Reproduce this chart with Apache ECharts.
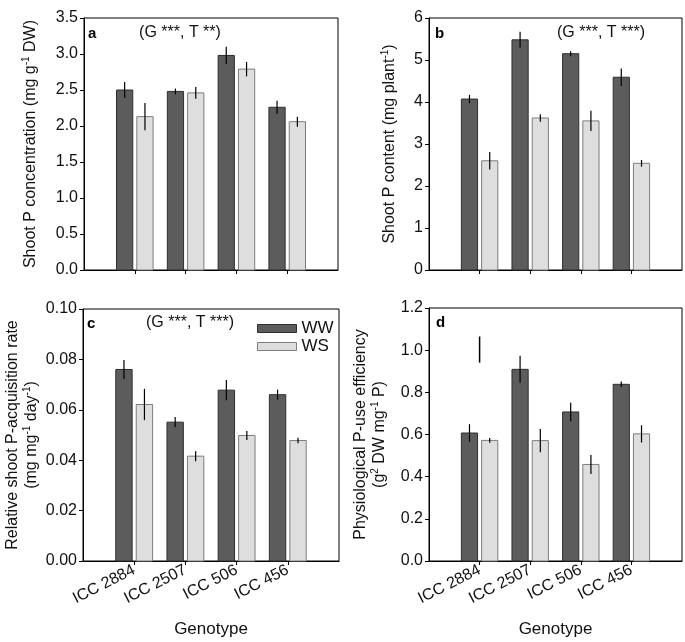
<!DOCTYPE html>
<html>
<head>
<meta charset="utf-8">
<script src="https://cdn.jsdelivr.net/npm/echarts@6/dist/echarts.min.js"></script>
<style>
  html, body { margin: 0; padding: 0; background: #fff; }
  #chart { width: 685px; height: 642px; }
</style>
</head>
<body>
<div id="chart"></div>
<script>
// genotypes on the x axis (positions 0..3)
const genotypes = ['ICC 2884', 'ICC 2507', 'ICC 506', 'ICC 456'];

// a: shoot P concentration (mg g-1 DW)
const concWW = [2.50, 2.48, 2.98, 2.26];
const concWWErr = [0.11, 0.04, 0.12, 0.09];
const concWS = [2.13, 2.46, 2.79, 2.06];
const concWSErr = [0.19, 0.08, 0.10, 0.07];

// b: shoot P content (mg plant-1)
const contentWW = [4.07, 5.48, 5.15, 4.59];
const contentWWErr = [0.10, 0.19, 0.06, 0.21];
const contentWS = [2.60, 3.62, 3.55, 2.54];
const contentWSErr = [0.21, 0.09, 0.24, 0.08];

// c: relative shoot P-acquisition rate
const rateWW = [0.0760, 0.0551, 0.0678, 0.0660];
const rateWWErr = [0.0038, 0.0020, 0.0040, 0.0020];
const rateWS = [0.0621, 0.0416, 0.0498, 0.0478];
const rateWSErr = [0.0062, 0.0020, 0.0018, 0.0011];

// d: physiological P-use efficiency
const pueWW = [0.607, 0.909, 0.707, 0.838];
const pueWWErr = [0.042, 0.064, 0.044, 0.013];
const pueWS = [0.572, 0.571, 0.458, 0.603];
const pueWSErr = [0.011, 0.055, 0.045, 0.041];
// lone error line drawn above ICC 2884 in panel d: [x, mean, err]
const pueStray = [0, 1.003, 0.062];

// y axis ranges [min, max, interval] and decimals of tick labels
const concAxis = [0, 3.5, 0.5, 1];
const contentAxis = [0, 6, 1, 0];
const rateAxis = [0, 0.10, 0.02, 2];
const pueAxis = [0, 1.2, 0.2, 1];

const statsLabels = ['(G ***, T **)', '(G ***, T ***)', '(G ***, T ***)', ''];
const panelLetters = ['a', 'b', 'c', 'd'];

const FONT = 'Liberation Sans, Arial, sans-serif';
const WW_FILL = '#5c5c5c', WW_EDGE = '#2f2f2f';
const WS_FILL = '#dedede', WS_EDGE = '#7d7d7d';
const BAR_W = 0.32;
const OFFSET = 0.2;

const chart = echarts.init(document.getElementById('chart'));

const grids = [
  { left: 84, top: 18, width: 254, height: 252 },
  { left: 429, top: 18, width: 253, height: 252 },
  { left: 83, top: 309, width: 256, height: 252 },
  { left: 429, top: 308, width: 253, height: 253 }
];

const supRich = {
  sup: { fontSize: 10, fontFamily: FONT, color: '#111', verticalAlign: 'top', lineHeight: 10 }
};

function xAxis(i, showLabels) {
  return {
    type: 'value', gridIndex: i, min: -1, max: 4, interval: 1,
    name: showLabels ? 'Genotype' : '',
    nameLocation: 'middle', nameGap: 60,
    nameTextStyle: { fontFamily: FONT, fontSize: 17, color: '#111' },
    axisLine: { show: true, onZero: false, lineStyle: { color: '#000', width: 1 } },
    axisTick: { show: true, length: 4, customValues: [0, 1, 2, 3], lineStyle: { color: '#000' } },
    axisLabel: {
      show: showLabels, rotate: 27, margin: 8,
      customValues: [0, 1, 2, 3],
      formatter: v => genotypes[v] || '',
      fontFamily: FONT, fontSize: 16, color: '#111'
    },
    splitLine: { show: false }
  };
}

function yAxis(i, range, name, gap) {
  return {
    type: 'value', gridIndex: i, min: range[0], max: range[1], interval: range[2],
    name: name, nameLocation: 'middle', nameGap: gap, nameRotate: 90,
    nameTextStyle: { fontFamily: FONT, fontSize: 16, color: '#111', lineHeight: 19, rich: supRich },
    axisLine: { show: true, onZero: false, lineStyle: { color: '#000', width: 1 } },
    axisTick: { show: true, length: 4, inside: false, lineStyle: { color: '#000' } },
    axisLabel: {
      formatter: v => v.toFixed(range[3]),
      fontFamily: FONT, fontSize: 16, color: '#111', margin: 6
    },
    splitLine: { show: false }
  };
}

function barSeries(name, i, values, errs, offset, fill, edge) {
  return {
    name: name, type: 'custom', xAxisIndex: i, yAxisIndex: i,
    itemStyle: { color: fill, borderColor: edge, borderWidth: 1 },
    dimensions: ['x', 'y', 'e'],
    encode: { x: 0, y: 1 },
    data: values.map((v, k) => [k, v, errs[k]]),
    renderItem: (params, api) => {
      const x = api.value(0) + offset;
      const m = api.value(1);
      const e = api.value(2);
      const tl = api.coord([x - BAR_W / 2, m]);
      const br = api.coord([x + BAR_W / 2, 0]);
      const top = api.coord([x, m + e]);
      const bot = api.coord([x, m - e]);
      return {
        type: 'group',
        children: [
          {
            type: 'rect',
            shape: { x: tl[0], y: tl[1], width: br[0] - tl[0], height: br[1] - tl[1] },
            style: { fill: fill, stroke: edge, lineWidth: 1 }
          },
          {
            type: 'line',
            shape: { x1: top[0], y1: top[1], x2: bot[0], y2: bot[1] },
            style: { stroke: '#000', lineWidth: 1.2 }
          }
        ]
      };
    }
  };
}

function panelSeries(i, ww, wwErr, ws, wsErr) {
  return [
    barSeries('WW', i, ww, wwErr, -OFFSET, WW_FILL, WW_EDGE),
    barSeries('WS', i, ws, wsErr, OFFSET, WS_FILL, WS_EDGE)
  ];
}

const series = [
  ...panelSeries(0, concWW, concWWErr, concWS, concWSErr),
  ...panelSeries(1, contentWW, contentWWErr, contentWS, contentWSErr),
  ...panelSeries(2, rateWW, rateWWErr, rateWS, rateWSErr),
  ...panelSeries(3, pueWW, pueWWErr, pueWS, pueWSErr),
  {
    name: 'stray', type: 'custom', xAxisIndex: 3, yAxisIndex: 3,
    data: [pueStray],
    renderItem: (params, api) => {
      const top = api.coord([api.value(0), api.value(1) + api.value(2)]);
      const bot = api.coord([api.value(0), api.value(1) - api.value(2)]);
      return {
        type: 'line',
        shape: { x1: top[0], y1: top[1], x2: bot[0], y2: bot[1] },
        style: { stroke: '#000', lineWidth: 1.5 }
      };
    }
  }
];

const letterPos = [[88, 26], [435, 26], [87, 316], [436, 315]];
const statsPos = [[180, 33], [601, 33], [190, 323], [0, 0]];

const graphic = [];
panelLetters.forEach((t, i) => {
  graphic.push({
    type: 'text', left: letterPos[i][0], top: letterPos[i][1],
    style: { text: t, font: 'bold 15px ' + FONT, fill: '#000' }
  });
  if (statsLabels[i]) {
    graphic.push({
      type: 'text', x: statsPos[i][0], y: statsPos[i][1],
      style: { text: statsLabels[i], font: '16px ' + FONT, fill: '#111', align: 'center', verticalAlign: 'middle' }
    });
  }
});

chart.setOption({
  animation: false,
  grid: grids.map(g => Object.assign({ show: true, borderColor: '#000', borderWidth: 1, backgroundColor: 'transparent' }, g)),
  xAxis: [xAxis(0, false), xAxis(1, false), xAxis(2, true), xAxis(3, true)],
  yAxis: [
    yAxis(0, concAxis, 'Shoot P concentration (mg g{sup|-1} DW)', 44),
    yAxis(1, contentAxis, 'Shoot P content (mg plant{sup|-1})', 30),
    yAxis(2, rateAxis, 'Relative shoot P-acquisition rate\n(mg mg{sup|-1} day{sup|-1})', 42),
    yAxis(3, pueAxis, 'Physiological P-use efficiency\n(g{sup|2} DW mg{sup|-1} P)', 40)
  ],
  legend: {
    orient: 'vertical', left: 252, top: 315,
    itemWidth: 39, itemHeight: 8, itemGap: 1,
    icon: 'rect',
    textStyle: { fontFamily: FONT, fontSize: 17, color: '#111', padding: [0, 0, 0, 0] },
    data: [
      { name: 'WW', itemStyle: { color: WW_FILL, borderColor: WW_EDGE, borderWidth: 1 } },
      { name: 'WS', itemStyle: { color: WS_FILL, borderColor: WS_EDGE, borderWidth: 1 } }
    ],
    selectedMode: false
  },
  graphic: graphic,
  series: series
});

window.addEventListener('resize', () => chart.resize());
</script>
</body>
</html>
